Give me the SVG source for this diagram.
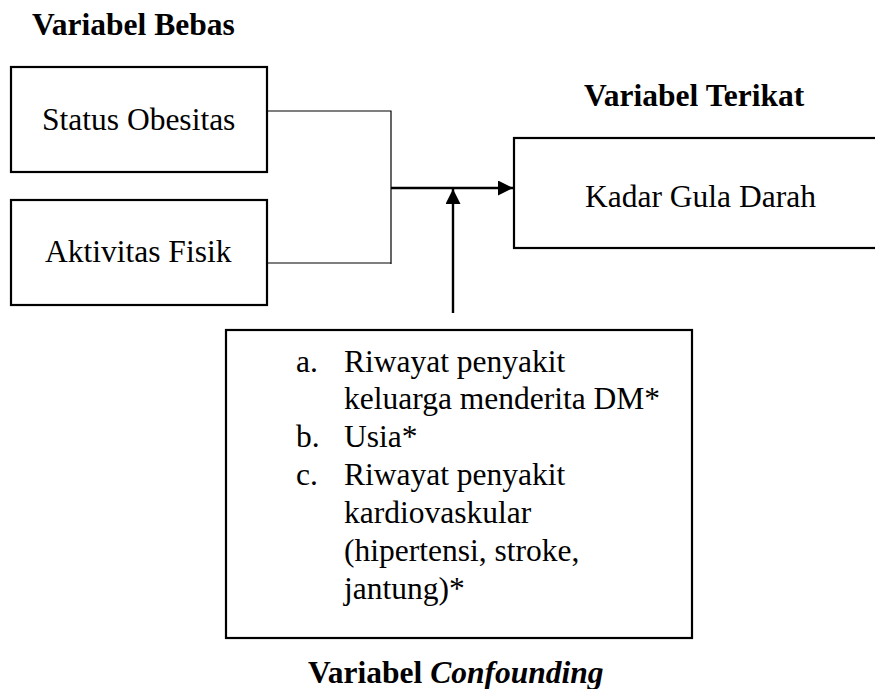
<svg xmlns="http://www.w3.org/2000/svg" width="875" height="689" viewBox="0 0 875 689">
<style>
text{font-family:"Liberation Serif","Times New Roman",serif;font-size:31.5px;fill:#000}
.b{font-weight:bold}
.box{fill:#fff;stroke:#000;stroke-width:2.2}
.thin{fill:none;stroke:#000;stroke-width:1.2}
.arr{fill:none;stroke:#000;stroke-width:2.4}
</style>
<defs>
<marker id="ah" viewBox="0 0 10 10" refX="10" refY="5" markerWidth="15" markerHeight="15" markerUnits="userSpaceOnUse" orient="auto">
<path d="M0,0 L10,5 L0,10 z" fill="#000"/>
</marker>
</defs>
<rect width="875" height="689" fill="#fff"/>
<text class="b" x="32" y="35">Variabel Bebas</text>
<text class="b" x="584" y="106">Variabel Terikat</text>
<text class="b" x="308" y="683">Variabel <tspan font-style="italic">Confounding</tspan></text>
<g id="connectors">
<polyline class="thin" points="267,111 391,111 391,264"/>
<line class="thin" x1="267" y1="263" x2="391" y2="263"/>
<line class="arr" x1="391" y1="188" x2="513" y2="188" marker-end="url(#ah)"/>
<line class="arr" x1="453" y1="313" x2="453" y2="189" marker-end="url(#ah)"/>
</g>
<g id="status-obesitas">
<rect class="box" x="11" y="67" width="256" height="105"/>
<text x="42" y="130">Status Obesitas</text>
</g>
<g id="aktivitas-fisik">
<rect class="box" x="11" y="200" width="256" height="105"/>
<text x="45" y="262">Aktivitas Fisik</text>
</g>
<g id="kadar-gula-darah">
<rect class="box" x="514" y="138" width="380" height="110"/>
<text x="585" y="207">Kadar Gula Darah</text>
</g>
<g id="confounding">
<rect class="box" x="226" y="330" width="466" height="308"/>
<text x="296" y="372">a.</text><text x="344" y="372">Riwayat penyakit</text>
<text x="344" y="409">keluarga menderita DM*</text>
<text x="296" y="447">b.</text><text x="344" y="447">Usia*</text>
<text x="296" y="485">c.</text><text x="344" y="485">Riwayat penyakit</text>
<text x="344" y="523">kardiovaskular</text>
<text x="344" y="561">(hipertensi, stroke,</text>
<text x="344" y="599">jantung)*</text>
</g>
</svg>
